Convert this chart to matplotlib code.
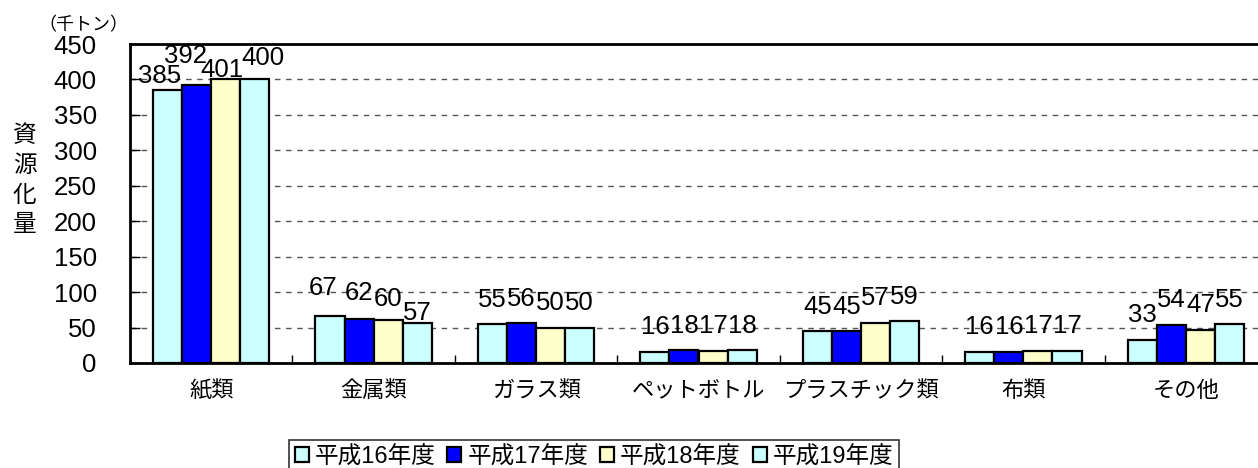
import matplotlib
matplotlib.use('Agg')
from matplotlib import pyplot as plt
import numpy as np

plt.rcParams['font.family'] = ['Liberation Sans', 'Noto Sans CJK JP', 'DejaVu Sans']

categories = ['紙類', '金属類', 'ガラス類', 'ペットボトル', 'プラスチック類', '布類', 'その他']
series_names = ['平成16年度', '平成17年度', '平成18年度', '平成19年度']
h16 = [385, 67, 55, 16, 45, 16, 33]
h17 = [392, 62, 56, 18, 45, 16, 54]
h18 = [401, 60, 50, 17, 57, 17, 47]
h19 = [400, 57, 50, 18, 59, 17, 55]
yticks = [0, 50, 100, 150, 200, 250, 300, 350, 400, 450]

colors = ['#CCFFFF', '#0000FF', '#FFFFCC', '#CCFFFF']

# label nudges (points) for the labels that were moved by hand in the original
nudge = {(0, 0): (-6, 1.5), (0, 1): (-8, 12), (0, 2): (-3, -2), (0, 3): (6, 6.5),
         (1, 0): (-5, 11.5), (1, 1): (0, 10), (1, 2): (0, 6.5), (1, 3): (0, -1.5)}

fig = plt.figure(figsize=(12.58, 4.68), dpi=100)
W, H = 1258, 468
ax = fig.add_axes([130/W, 1-363/H, (1267-130)/W, (363-44)/H])

x = np.arange(len(categories))
w = 0.179
offsets = [-1.5, -0.5, 0.5, 1.5]
bars = []
for si, (vals, off, c, name) in enumerate(zip([h16, h17, h18, h19], offsets, colors, series_names)):
    b = ax.bar(x + off*w, vals, width=w, color=c, edgecolor='black', linewidth=1.6,
               label=name, zorder=3)
    bars.append(b)
    for ci, (xi, v) in enumerate(zip(x + off*w, vals)):
        dx, dy = nudge.get((ci, si), (0, 9))
        ax.annotate(str(v), (xi, v), xytext=(dx, dy), textcoords='offset points',
                    ha='center', va='bottom', fontsize=18.5, zorder=4)

ax.set_xlim(-0.5, 6.5)
ax.set_ylim(0, 450)
ax.set_yticks(yticks)
ax.set_yticklabels([str(t) for t in yticks], fontsize=18.5)
ax.yaxis.grid(True, linestyle=(0, (4, 4)), color='#555555', linewidth=1.0, zorder=0)
ax.set_xticks(x)
ax.set_xticklabels(categories, fontsize=16)
ax.tick_params(axis='x', length=0, pad=13)
ax.set_xticks(np.arange(0.5, 6.5, 1), minor=True)
ax.tick_params(axis='x', which='minor', direction='in', length=6, width=1)
ax.tick_params(axis='y', direction='in', length=7, width=1, pad=24)
for s in ['left', 'bottom', 'top']:
    ax.spines[s].set_linewidth(2)
ax.spines['right'].set_visible(False)

fig.text(24.5/W, 1-181/H, '\n'.join('資源化量'), fontsize=17, ha='center', va='center',
         linespacing=1.45)
fig.text(83/W, 1-26/H, '（千トン）', fontsize=13, ha='center', va='center')

leg = fig.legend(handles=bars, labels=series_names, loc='upper center',
                 bbox_to_anchor=(594/W, 1-440/H), ncol=4, fontsize=17,
                 frameon=True, fancybox=False, edgecolor='black',
                 handlelength=0.6, handleheight=0.6, handletextpad=0.25,
                 columnspacing=0.5, borderpad=0.25, borderaxespad=0)
leg.get_frame().set_linewidth(1.2)

fig.savefig('out.png', dpi=100)
